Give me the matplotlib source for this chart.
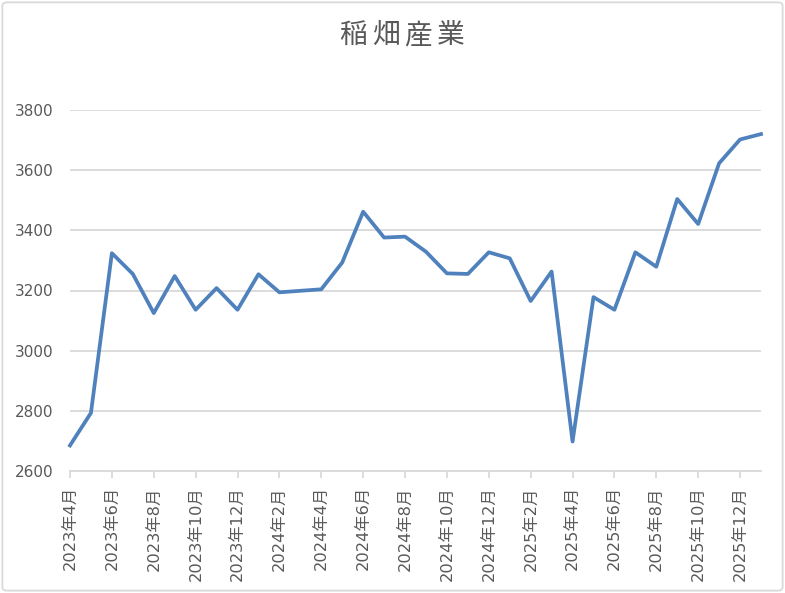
import numpy as np
import matplotlib
matplotlib.use('Agg')
import matplotlib.pyplot as plt
from matplotlib.patches import FancyBboxPatch

plt.rcParams['font.family'] = ['DejaVu Sans', 'Noto Sans CJK JP']

# monthly values, 2023年4月 .. 2026年1月
months = ['2023年4月', '2023年5月', '2023年6月', '2023年7月', '2023年8月', '2023年9月',
          '2023年10月', '2023年11月', '2023年12月', '2024年1月', '2024年2月', '2024年3月',
          '2024年4月', '2024年5月', '2024年6月', '2024年7月', '2024年8月', '2024年9月',
          '2024年10月', '2024年11月', '2024年12月', '2025年1月', '2025年2月', '2025年3月',
          '2025年4月', '2025年5月', '2025年6月', '2025年7月', '2025年8月', '2025年9月',
          '2025年10月', '2025年11月', '2025年12月', '2026年1月']
values = [2685, 2793, 3324, 3255, 3125, 3248, 3136, 3208, 3136, 3254, 3194, 3199,
          3204, 3293, 3462, 3376, 3379, 3329, 3257, 3255, 3327, 3307, 3165, 3263,
          2698, 3178, 3136, 3327, 3279, 3504, 3421, 3623, 3702, 3720]
yticks = [2600, 2800, 3000, 3200, 3400, 3600, 3800]
title = '稲畑産業'

txtcol = '#595959'
gridcol = '#d9d9d9'

fig = plt.figure(figsize=(7.85, 5.93), dpi=100)
ax = fig.add_axes([70/785, 1-471/593, (761-70)/785, (471-110)/593])

x = np.arange(len(values))
ax.plot(x, values, color='#4f81bd', linewidth=2.7, solid_joinstyle='round', clip_on=False)

ax.set_xlim(0, len(values)-1)
ax.set_ylim(2600, 3800)
ax.set_yticks(yticks)
ax.set_yticklabels([str(v) for v in yticks], fontsize=11, color=txtcol)
ax.grid(axis='y', color=gridcol, linewidth=1.3)
ax.set_axisbelow(True)

# every second month gets a label
ax.set_xticks(x[::2])
ax.set_xticklabels(months[::2], rotation=90, fontsize=11.7, color=txtcol, va='top')
ax.tick_params(axis='x', length=5, color=gridcol, width=1.3, pad=6)
ax.tick_params(axis='y', length=0, pad=12)

for s in ['top', 'right', 'left']:
    ax.spines[s].set_visible(False)
ax.spines['bottom'].set_color(gridcol)
ax.spines['bottom'].set_linewidth(1.3)

# title has some letter spacing, place each character
step = 32.5
x0 = 402 - step * (len(title) - 1) / 2
for i, ch in enumerate(title):
    fig.text((x0 + i * step) / 785, 1 - 35/593, ch, ha='center', va='center',
             fontsize=20, color=txtcol, family='Noto Sans CJK JP')

# chart border
border = FancyBboxPatch((0.003, 0.004), 0.994, 0.992, boxstyle='round,pad=0,rounding_size=0.006',
                        transform=fig.transFigure, facecolor='none', edgecolor=gridcol, linewidth=1.3)
fig.patches.append(border)

fig.savefig('out.png', dpi=100)
